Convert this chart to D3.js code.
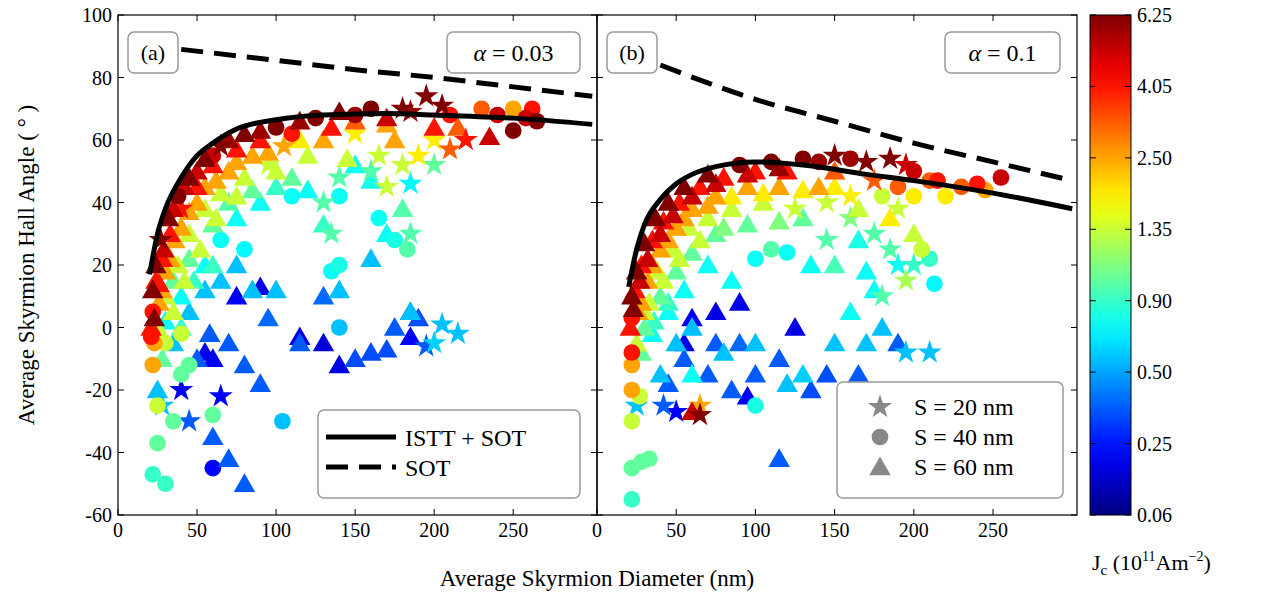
<!DOCTYPE html>
<html><head><meta charset="utf-8">
<script src="https://cdn.jsdelivr.net/npm/d3@7"></script>
<style>body{margin:0;background:#fff}text{font-family:"Liberation Serif","DejaVu Serif",serif}</style>
</head><body><svg id="c" width="1270" height="605"></svg>
<script>
// points: "x y level shape" ; level 0..7 = colorbar position, shape t/c/s
var pointsA = [
"22 12 7 t","24 20 7 t","27 28 7 s","32 35 7 t","38 42 7 c","45 48 7 t","55 54 7 t","65 58 7 s","80 62 7 t","100 64 7 c","125 67 7 c","140 69 7 t","160 70 7 c","180 70 7 s","195 74 7 s","210 68 6 c","230 70 5.5 c","250 70 5 c","262 70 6 c","265 66 7 c","250 63 7 c","235 61 6.5 t","220 60 6 s","210 57 5.5 s",
"21 0 6 t","21 -3 6 c","23 3 7 t","26 14 6 t","29 25 6.5 t","35 38 6.5 t","42 45 6.5 t","50 50 6.5 t","60 55 6.5 c","70 60 6.8 t","90 63 6.8 t","115 66 6.8 t","150 68 6.8 c","170 67 6.5 t","185 69 6.8 s","205 71 7 s","240 68 6.5 c","258 67 6.5 c","200 64 6 t","215 64 5.5 t",
"22 5 6 c","24 15 6 t","28 22 6 t","33 30 6 t","40 38 6 s","50 45 6 t","60 52 6 t","75 57 6 t","90 60 6 t","110 62 6 c","135 64 6 t","150 66 5.5 t","170 65 5 t",
"22 -12 5 c","23 -5 5 c","26 8 5 t","30 18 5 t","36 28 5 t","45 37 5 t","55 45 5 t","70 50 5 t","85 55 5 t","105 58 5 s","130 60 5 t","150 62 4.5 s","175 60 5 t","200 60 4.5 s","190 55 4.5 s","180 52 4 s",
"28 12 5 t","33 22 5 t","40 32 5 t","50 40 5 t","62 47 5 t","75 53 5 t","95 56 5 t","115 60 4.5 t",
"25 -25 4 c","30 -5 4 c","30 10 4 t","38 20 4 t","45 30 4 t","55 38 4 t","65 43 4 t","80 48 4 t","95 52 4 s","120 55 4 t","145 54 4 t","165 55 4 s","170 45 4 s","40 -2 4 c",
"25 0 4 t","35 5 4 t","42 15 4 t","52 25 4 t","62 35 4 t","75 42 4 t","100 50 4 t",
"25 -37 3.3 c","30 -50 3 c","22 -47 3 c","35 -30 3.3 c","40 -15 3.3 c","45 -12 3.3 c","60 -28 3.3 c","35 15 3.3 t","45 22 3.3 t","60 33 3.3 t","70 40 3.2 t","85 44 3.3 t","110 48 3.3 t","130 40 3.2 s","140 48 3.2 s","160 50 3.2 s","180 38 3.2 t","185 30 3.2 s","183 25 3.2 c","200 52 3.3 s","135 30 3.2 s","130 33 3 t",
"28 -10 3.3 t","40 0 3 t","48 15 3 t","60 20 3 t","100 45 3 t",
"30 2 2.7 t","40 10 2.7 t","55 20 2.7 t","65 28 2.7 c","75 35 2.7 t","90 40 2.7 t","110 42 2.7 c","120 44 2.7 t","140 42 2.7 c","140 20 2.8 c","135 18 2.7 c","160 47 2.8 t","175 28 2.8 c","165 35 2.7 c","185 46 2.6 s","170 30 2.7 t","80 25 2.6 c","150 52 2.7 t",
"25 -20 2.2 t","28 -25 2.2 s","35 -5 2.2 t","45 5 2.2 t","55 12 2.2 t","65 15 2.2 t","75 20 2.2 t","85 12 2.2 t","100 12 2.2 t","140 0 2.2 c","160 22 2.2 t","185 5 2.2 t","200 -5 2.3 s","205 1 2.2 s","215 -2 2.2 s","104 -30 2.2 c","140 12 2.2 t",
"50 -10 1.5 t","58 -2 1.5 t","70 -5 1.5 t","80 -12 1.5 t","90 -18 1.5 t","95 3 1.6 t","115 -5 1.5 t","130 10 1.6 t","150 -10 1.4 t","160 -8 1.4 t","170 -7 1.4 t","175 0 1.5 t","185 5 1.5 t","195 -6 1.5 s","60 -35 1.5 t","70 -42 1.5 t","80 -50 1.5 t","45 -30 1.5 s","190 3 1.4 t",
"40 -20 0.8 s","65 -22 0.8 s","75 10 0.8 t","90 13 0.7 t","115 -3 0.7 t","130 -5 0.6 t","140 -12 0.7 t","185 -3 0.8 t","60 -45 0.9 c","55 -8 0.7 t","60 -10 0.8 t"
];
var pointsB = [
"22 10 7 t","25 18 7 t","30 27 7 t","37 35 7 t","45 40 7 t","55 45 7 t","70 49 7 t","90 52 7 c","110 53 7 c","130 54 7 c","150 55 7 s","170 53 7 s","185 54 7 s","200 50 6.5 c","215 47 6 c","240 46 6 c","255 48 6.5 c","65 -28 7 s","60 -27 6.5 t",
"21 0 6 t","23 6 7 t","27 15 6.5 t","32 22 6.5 t","40 30 6.5 t","48 36 6.5 t","60 42 6.5 t","75 46 6.5 t","95 49 6.5 t","115 51 6.8 t","140 53 6.8 c","160 54 6.8 c","195 52 6.5 s","210 47 5.5 c","245 44 5 c",
"22 3 6 c","24 12 6 t","28 20 6 t","35 28 6 t","42 34 6 t","52 40 6 t","65 45 6 t","80 48 6 t","100 50 6 t","120 50 6 t","150 50 5.5 t","175 47 5.5 s","190 45 5.5 c","230 45 5.5 c","22 -8 6 c",
"22 -12 5 c","22 -20 5 c","26 5 5 t","32 15 5 t","40 25 5 t","50 32 5 t","60 38 5 t","75 42 5 t","95 45 5 t","115 45 5 t","140 45 5 t","160 42 4.5 s","200 42 4.5 c","220 42 4.5 c","185 35 4.5 t","65 -25 5 s",
"28 8 5 t","35 20 5 t","45 28 5 t","55 35 5 t","70 39 5 t","85 42 4.5 t","105 43 4.5 t","130 44 4.5 t","150 45 4.5 t","180 42 4 c",
"22 -30 4 c","27 -22 4 c","30 5 4 t","38 18 4 t","48 25 4 t","58 32 4 t","70 35 4 t","85 38 4 t","105 40 4 t","125 38 4 s","145 40 4 s","190 38 4 s","200 30 4 t","205 25 4 c","195 15 3.8 s","165 38 4 t",
"25 -5 4 t","33 8 4 t","42 15 4 t","52 22 4 t","65 28 4 t","80 32 3.5 t","115 34 3.5 t","160 35 3.5 s",
"22 -45 3.3 c","22 -55 3 c","28 -43 3.3 c","33 -42 3.3 c","30 0 3.3 t","40 10 3.3 t","50 18 3.3 t","60 24 3.3 t","75 30 3.3 t","95 33 3.3 t","110 25 3.2 c","130 35 3.3 t","145 28 3.2 s","175 30 3.2 s","185 25 3.2 s","180 10 3.2 s","200 20 3 s","210 22 3 c","150 20 3.1 t",
"28 -8 3.3 t","36 2 3 t","45 8 3 t",
"35 -2 2.7 t","45 5 2.7 t","55 12 2.7 t","70 20 2.7 t","85 15 2.7 t","100 22 2.7 c","120 24 2.7 c","135 20 2.7 t","165 28 2.8 t","170 18 2.7 t","190 20 2.7 s","213 14 2.6 c","60 -15 2.7 t","100 -25 2.8 c","175 12 2.7 t","160 5 2.7 t",
"25 -25 2.2 s","40 -15 2.2 t","50 -5 2.2 t","60 0 2.2 t","80 -8 2.2 t","100 -5 2.2 t","150 -5 2.2 t","170 -5 2.2 t","180 0 2.2 t","195 -8 2.2 s","210 -8 2.2 s","120 -18 2.2 t","130 -15 2.3 t",
"45 -18 1.5 t","55 -10 1.5 t","70 -15 1.5 t","85 -20 1.5 t","90 -5 1.6 t","100 -15 1.5 t","115 -10 1.5 t","135 -20 1.4 t","145 -15 1.4 t","165 -15 1.5 t","190 -5 1.5 t","115 -42 1.5 t","42 -25 1.5 s","75 -5 1.5 t",
"50 -27 0.8 s","60 3 0.8 t","75 5 0.7 t","90 8 0.7 t","125 0 0.7 t","95 -22 0.8 t","55 -5 0.7 t"
];
var isttA = [[20,17],[25,30],[30,38],[40,48],[50,55],[60,59],[75,63.5],[100,66.5],[130,68],[170,68.5],[200,68],[250,67],[300,65]];
var sotA = [[40,89],[100,85.5],[150,82.5],[200,80],[250,77],[300,74]];
var isttB = [[20,13],[25,25],[30,33],[40,41],[50,46],[60,49],[75,51.5],[100,53],[130,52],[170,49],[200,47],[250,43],[300,38]];
var sotB = [[40,84],[100,73],[150,66],[200,59],[250,53],[300,47]];
var xTicks = [0,50,100,150,200,250];
var yTicks = [-60,-40,-20,0,20,40,60,80,100];
var cbLabels = ["0.06","0.25","0.50","0.90","1.35","2.50","4.05","6.25"];

function jet(t){
  function cl(v){return Math.max(0,Math.min(1,v));}
  var r=cl(1.5-Math.abs(4*t-3)), g=cl(1.5-Math.abs(4*t-2)), b=cl(1.5-Math.abs(4*t-1));
  return d3.rgb(r*255,g*255,b*255).toString();
}
var svg = d3.select("#c");
var topY = 15, botY = 515;
var y = d3.scaleLinear().domain([-60,100]).range([botY,topY]);
var panels = [
  {x0:118, x1:597, pts:pointsA, istt:isttA, sot:sotA, tag:"(a)", alpha:"0.03"},
  {x0:597, x1:1077, pts:pointsB, istt:isttB, sot:sotB, tag:"(b)", alpha:"0.1"}
];
var symT = d3.symbol().type(d3.symbolTriangle).size(200);
var symC = d3.symbol().type(d3.symbolCircle).size(220);
var symS = d3.symbol().type(d3.symbolStar).size(180);
function sym(s){return s=="t"?symT():s=="c"?symC():symS();}

panels.forEach(function(p,i){
  var x = d3.scaleLinear().domain([0,303]).range([p.x0,p.x1]);
  var g = svg.append("g");
  g.append("clipPath").attr("id","cp"+i).append("rect").attr("x",p.x0).attr("y",topY).attr("width",p.x1-p.x0).attr("height",botY-topY);
  var pg = g.append("g").attr("clip-path","url(#cp"+i+")");
  var data = p.pts.map(function(s){var a=s.split(" ");return {x:+a[0],y:+a[1],c:+a[2],s:a[3]};});
  data.sort(function(a,b){return a.c-b.c;});
  pg.selectAll("path.pt").data(data).enter().append("path")
    .attr("transform",function(d){return "translate("+x(d.x)+","+(y(d.y)+(d.s=="t"?2:0))+")";})
    .attr("d",function(d){return sym(d.s);})
    .attr("fill",function(d){return jet(d.c/7);});
  var line = d3.line().curve(d3.curveMonotoneX).x(function(d){return x(d[0]);}).y(function(d){return y(d[1]);});
  pg.append("path").attr("d",line(p.istt)).attr("fill","none").attr("stroke","#000").attr("stroke-width",5);
  pg.append("path").attr("d",line(p.sot)).attr("fill","none").attr("stroke","#000").attr("stroke-width",5).attr("stroke-dasharray","22,11");
  // frame & ticks
  g.append("rect").attr("x",p.x0).attr("y",topY).attr("width",p.x1-p.x0).attr("height",botY-topY).attr("fill","none").attr("stroke","#000").attr("stroke-width",1.2);
  xTicks.forEach(function(t){
    g.append("line").attr("x1",x(t)).attr("x2",x(t)).attr("y1",botY).attr("y2",botY-6).attr("stroke","#000");
    g.append("line").attr("x1",x(t)).attr("x2",x(t)).attr("y1",topY).attr("y2",topY+6).attr("stroke","#000");
    g.append("text").attr("x",x(t)).attr("y",botY+22).attr("text-anchor","middle").attr("font-size",20).text(t);
  });
  yTicks.forEach(function(t){
    g.append("line").attr("x1",p.x0).attr("x2",p.x0+6).attr("y1",y(t)).attr("y2",y(t)).attr("stroke","#000");
    g.append("line").attr("x1",p.x1).attr("x2",p.x1-6).attr("y1",y(t)).attr("y2",y(t)).attr("stroke","#000");
    if(i==0) g.append("text").attr("x",p.x0-6).attr("y",y(t)+7).attr("text-anchor","end").attr("font-size",20).text(t);
  });
  function box(bx,by,w,h){g.append("rect").attr("x",bx).attr("y",by).attr("width",w).attr("height",h).attr("rx",6).attr("fill","#fff").attr("fill-opacity",0.85).attr("stroke","#999").attr("stroke-width",1.5);}
  box(p.x0+10,32,50,41);
  g.append("text").attr("x",p.x0+35).attr("y",60).attr("text-anchor","middle").attr("font-size",22).text(p.tag);
  var aw = i==0?133:115;
  box(p.x1-17-aw,32,aw,41);
  var at = g.append("text").attr("x",p.x1-17-aw/2).attr("y",61).attr("text-anchor","middle").attr("font-size",24);
  at.append("tspan").attr("font-style","italic").text("α");
  at.append("tspan").text(" = "+p.alpha);
});
// legend (a)
svg.append("rect").attr("x",318).attr("y",410).attr("width",262).attr("height",88).attr("rx",6).attr("fill","#fff").attr("fill-opacity",0.85).attr("stroke","#999").attr("stroke-width",1.5);
svg.append("line").attr("x1",326).attr("x2",396).attr("y1",437).attr("y2",437).attr("stroke","#000").attr("stroke-width",5);
svg.append("line").attr("x1",326).attr("x2",396).attr("y1",467).attr("y2",467).attr("stroke","#000").attr("stroke-width",5).attr("stroke-dasharray","22,11");
svg.append("text").attr("x",405).attr("y",446).attr("font-size",24).text("ISTT + SOT");
svg.append("text").attr("x",405).attr("y",476).attr("font-size",24).text("SOT");
// legend (b)
svg.append("rect").attr("x",837).attr("y",382).attr("width",226).attr("height",116).attr("rx",6).attr("fill","#fff").attr("fill-opacity",0.85).attr("stroke","#999").attr("stroke-width",1.5);
[["s","S = 20 nm"],["c","S = 40 nm"],["t","S = 60 nm"]].forEach(function(d,k){
  var yy = 407+k*30;
  svg.append("path").attr("transform","translate(880,"+(yy+(d[0]=="t"?2:0))+")").attr("d",sym(d[0])).attr("fill","#888");
  svg.append("text").attr("x",914).attr("y",yy+8).attr("font-size",24).text(d[1]);
});
// axis titles
svg.append("text").attr("x",597).attr("y",586).attr("text-anchor","middle").attr("font-size",23).text("Average Skyrmion Diameter (nm)");
svg.append("text").attr("transform","translate(34,265) rotate(-90)").attr("text-anchor","middle").attr("font-size",23).text("Average Skyrmion Hall Angle ( ° )");
// colorbar
var defs = svg.append("defs");
var grad = defs.append("linearGradient").attr("id","jet").attr("x1",0).attr("y1",1).attr("x2",0).attr("y2",0);
d3.range(0,1.0001,0.05).forEach(function(t){grad.append("stop").attr("offset",t).attr("stop-color",jet(t));});
var cb = d3.scaleLinear().domain([0,7]).range([botY,topY]);
svg.append("rect").attr("x",1090).attr("y",topY).attr("width",41).attr("height",botY-topY).attr("fill","url(#jet)").attr("stroke","#000");
cbLabels.forEach(function(l,k){
  svg.append("line").attr("x1",1131).attr("x2",1125).attr("y1",cb(k)).attr("y2",cb(k)).attr("stroke","#000");
  svg.append("line").attr("x1",1090).attr("x2",1096).attr("y1",cb(k)).attr("y2",cb(k)).attr("stroke","#000");
  svg.append("text").attr("x",1137).attr("y",cb(k)+7).attr("font-size",20).text(l);
});
var jt = svg.append("text").attr("x",1092).attr("y",570).attr("font-size",22);
jt.append("tspan").text("J");
jt.append("tspan").attr("font-size",15).attr("dy",5).text("c");
jt.append("tspan").attr("dy",-5).text(" (10");
jt.append("tspan").attr("font-size",14).attr("dy",-9).text("11");
jt.append("tspan").attr("dy",9).text("Am");
jt.append("tspan").attr("font-size",14).attr("dy",-9).text("−2");
jt.append("tspan").attr("dy",9).text(")");
</script></body></html>
